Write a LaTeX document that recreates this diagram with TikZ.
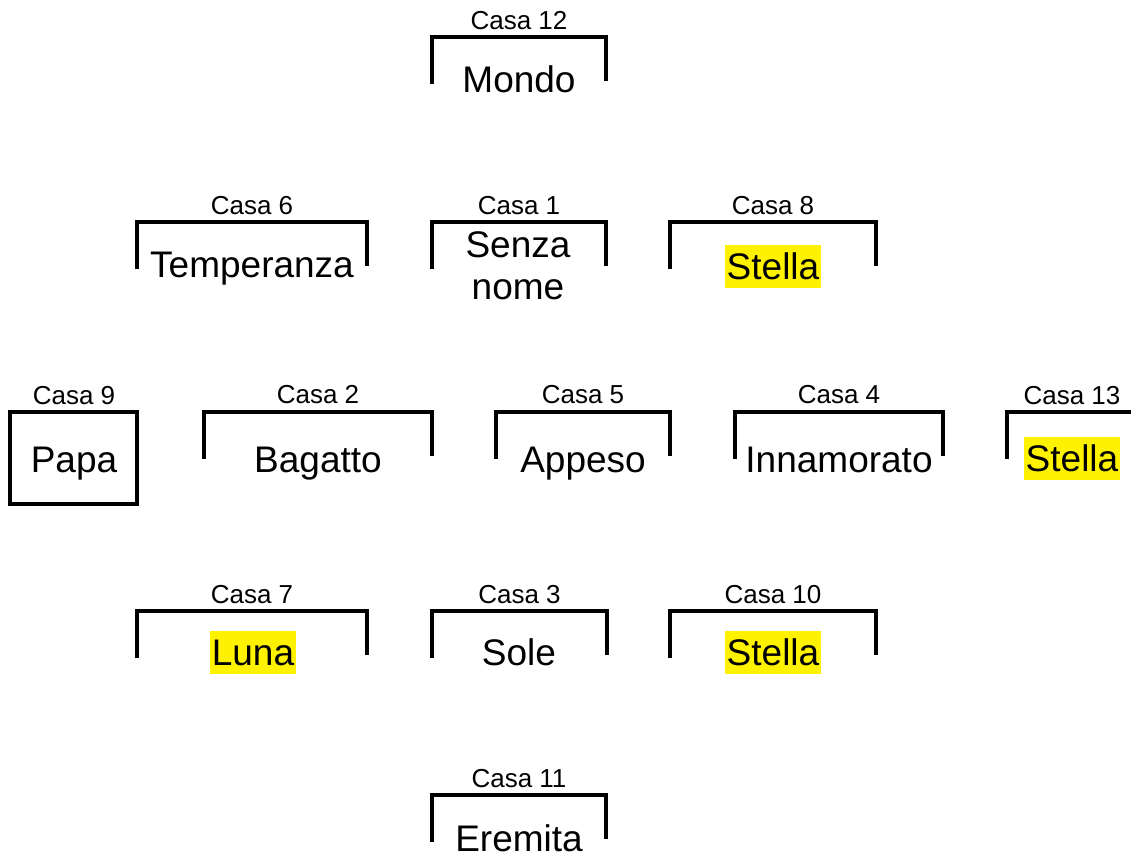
\documentclass[tikz,border=0pt]{standalone}
\usepackage{fontspec}
\setmainfont{Liberation Sans}
\tikzset{
  bracket/.style={line width=4pt, line join=miter},
  casalabel/.style={anchor=base, inner sep=0pt, font=\fontsize{26}{30}\selectfont},
  cardtext/.style={anchor=base, inner sep=0pt, font=\fontsize{37}{42}\selectfont},
  hilite/.style={cardtext, fill=yellow, inner xsep=1.5pt, text height=34pt, text depth=9pt},
}
\newcommand\casabr[5]{% name, left x, right x, top y, number
  \draw[bracket] (#2,#4+47) -- (#2,#4) -- (#3,#4) -- (#3,#4+44);
  \node[casalabel] (#1) at ({(#2+#3)/2},#4-8) {Casa #5};
}
\begin{document}
\begin{tikzpicture}[x=1pt,y=-1pt]
\useasboundingbox (0,0) rectangle (1131,857);
% row 0
\casabr{c12}{432}{606}{37}{12}
\node[cardtext] (t12) at (519,92) {Mondo};
% row 1
\casabr{c6}{137}{367}{222}{6}
\node[cardtext] (t6) at (252,277) {Temperanza};
\casabr{c1}{432}{606}{222}{1}
\node[cardtext, align=center] (t1) at (518,299) {Senza\\nome};
\casabr{c8}{670}{876}{222}{8}
\node[hilite] (t8) at (773,279) {Stella};
% row 2
\draw[bracket] (10,411.5) rectangle (137,504);
\node[casalabel] (c9) at (74,404) {Casa 9};
\node[cardtext] (t9) at (74,472) {Papa};
\casabr{c2}{204}{432}{411.5}{2}
\node[cardtext] (t2) at (318,472) {Bagatto};
\casabr{c5}{496}{670}{411.5}{5}
\node[cardtext] (t5) at (583,472) {Appeso};
\casabr{c4}{735}{943}{411.5}{4}
\node[cardtext] (t4) at (839,472) {Innamorato};
\draw[bracket] (1007,458.5) -- (1007,411.5) -- (1131,411.5);
\node[casalabel] (c13) at (1072,404) {Casa 13};
\node[hilite] (t13) at (1072,471) {Stella};
% row 3
\casabr{c7}{137}{367}{611}{7}
\node[hilite] (t7) at (253,665) {Luna};
\casabr{c3}{432}{607}{611}{3}
\node[cardtext] (t3) at (519,665) {Sole};
\casabr{c10}{670}{876}{611}{10}
\node[hilite] (t10) at (773,665) {Stella};
% row 4
\casabr{c11}{432}{606}{795}{11}
\node[cardtext] (t11) at (519,851) {Eremita};
\end{tikzpicture}
\end{document}
